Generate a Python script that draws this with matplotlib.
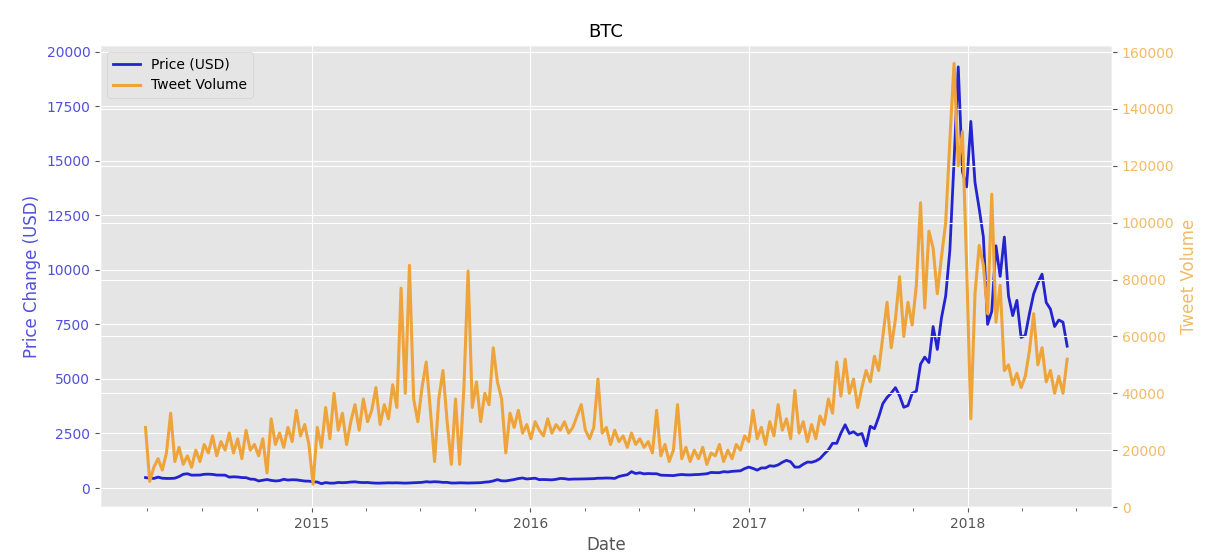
import matplotlib
matplotlib.use("Agg")
import matplotlib.pyplot as plt
import matplotlib.dates as mdates
import pandas as pd

plt.style.use("ggplot")

# weekly samples, 2014-03-29 .. 2018-06-16
startDate = "2014-03-29"

priceUsd = [
    480, 450, 440, 500, 450, 440, 440, 450, 525, 630,
    655, 590, 595, 595, 630, 635, 625, 595, 590, 590,
    500, 515, 505, 480, 475, 410, 400, 325, 360, 390,
    350, 325, 340, 400, 365, 380, 375, 350, 320, 315,
    285, 275, 200, 250, 225, 225, 255, 245, 255, 275,
    285, 260, 250, 255, 235, 225, 225, 235, 240, 235,
    240, 235, 225, 235, 245, 250, 260, 290, 275, 290,
    280, 260, 260, 230, 230, 240, 235, 230, 235, 240,
    245, 270, 285, 325, 385, 330, 325, 355, 390, 435,
    460, 415, 435, 450, 385, 390, 380, 375, 400, 440,
    430, 400, 410, 410, 415, 420, 420, 430, 450, 450,
    460, 455, 440, 530, 575, 610, 750, 665, 700, 650,
    665, 655, 655, 590, 585, 580, 570, 600, 620, 605,
    600, 615, 620, 640, 655, 715, 705, 705, 750, 735,
    765, 775, 790, 890, 960, 900, 820, 920, 920, 1020,
    1000, 1060, 1180, 1270, 1200, 960, 960, 1090, 1190, 1180,
    1240, 1350, 1560, 1750, 2050, 2050, 2520, 2900, 2500, 2580,
    2430, 2500, 1930, 2830, 2720, 3250, 3870, 4150, 4350, 4600,
    4230, 3700, 3780, 4340, 4440, 5680, 6000, 5750, 7400, 6350,
    7800, 8800, 10900, 15000, 19300, 14500, 13800, 16800, 14000, 12800,
    11500, 7500, 8100, 11100, 9700, 11500, 8800, 7900, 8600, 6900,
    7000, 8000, 8900, 9400, 9800, 8500, 8200, 7400, 7700, 7600,
    6500,
]

# thousands of tweets
tweetVolumeK = [
    28, 9, 14, 17, 13, 19, 33, 16, 21, 15,
    18, 14, 20, 16, 22, 19, 25, 18, 23, 20,
    26, 19, 24, 17, 27, 20, 22, 18, 24, 12,
    31, 22, 26, 21, 28, 23, 34, 25, 29, 22,
    8, 28, 21, 35, 24, 40, 27, 33, 22, 30,
    36, 27, 38, 30, 34, 42, 29, 36, 31, 43,
    35, 77, 40, 85, 38, 30, 42, 51, 34, 16,
    38, 48, 30, 15, 38, 15, 42, 83, 35, 44,
    30, 40, 36, 56, 44, 38, 19, 33, 28, 34,
    26, 29, 24, 30, 27, 25, 31, 26, 29, 27,
    30, 26, 28, 32, 36, 27, 24, 28, 45, 26,
    28, 22, 27, 23, 25, 21, 26, 22, 24, 21,
    23, 19, 34, 18, 22, 16, 20, 36, 17, 21,
    16, 20, 17, 21, 15, 19, 18, 22, 16, 20,
    17, 22, 20, 25, 23, 34, 24, 28, 22, 30,
    25, 36, 27, 31, 24, 41, 26, 30, 23, 29,
    24, 32, 29, 38, 33, 51, 39, 52, 40, 45,
    35, 42, 48, 44, 53, 48, 60, 72, 56, 66,
    81, 60, 72, 64, 78, 107, 70, 97, 91, 75,
    88, 100, 129, 156, 120, 132, 85, 31, 75, 92,
    85, 68, 110, 65, 78, 48, 50, 43, 47, 42,
    46, 55, 68, 50, 56, 44, 48, 40, 46, 40,
    52,
]

dates = pd.date_range(startDate, periods=len(priceUsd), freq="7D")
tweetVolume = [v * 1000 for v in tweetVolumeK]

priceColor = "#2323d0"
tweetColor = "#eea43a"

fig = plt.figure(figsize=(12.11, 5.6), dpi=100)
ax1 = fig.add_axes([0.0826, 0.0946, 0.8357, 0.825])
ax2 = ax1.twinx()

l1, = ax1.plot(dates, priceUsd, color=priceColor, linewidth=2.0, label="Price (USD)")
l2, = ax2.plot(dates, tweetVolume, color=tweetColor, linewidth=2.2, label="Tweet Volume")

ax1.set_ylim(-870, 20300)
ax1.set_yticks(range(0, 20001, 2500))
ax2.set_ylim(0, 162460)
ax2.set_yticks(range(0, 160001, 20000))

ax1.set_xlim(pd.Timestamp("2014-01-12"), pd.Timestamp("2018-08-30"))
ax1.xaxis.set_major_locator(mdates.YearLocator())
ax1.xaxis.set_major_formatter(mdates.DateFormatter("%Y"))
ax1.xaxis.set_minor_locator(mdates.MonthLocator(bymonth=[1, 4, 7, 10]))
ax1.tick_params(axis="x", which="minor", length=3, color="#555555")

ax1.tick_params(axis="y", labelcolor="#5050dd")
ax2.tick_params(axis="y", labelcolor="#f2bb66")
ax1.set_ylabel("Price Change (USD)", color="#5050dd")
ax2.set_ylabel("Tweet Volume", color="#f2bb66")
ax1.set_xlabel("Date")
ax1.set_title("BTC", fontsize=13)

ax2.legend([l1, l2], ["Price (USD)", "Tweet Volume"], loc="upper left")

plt.savefig("out.png", dpi=100)
